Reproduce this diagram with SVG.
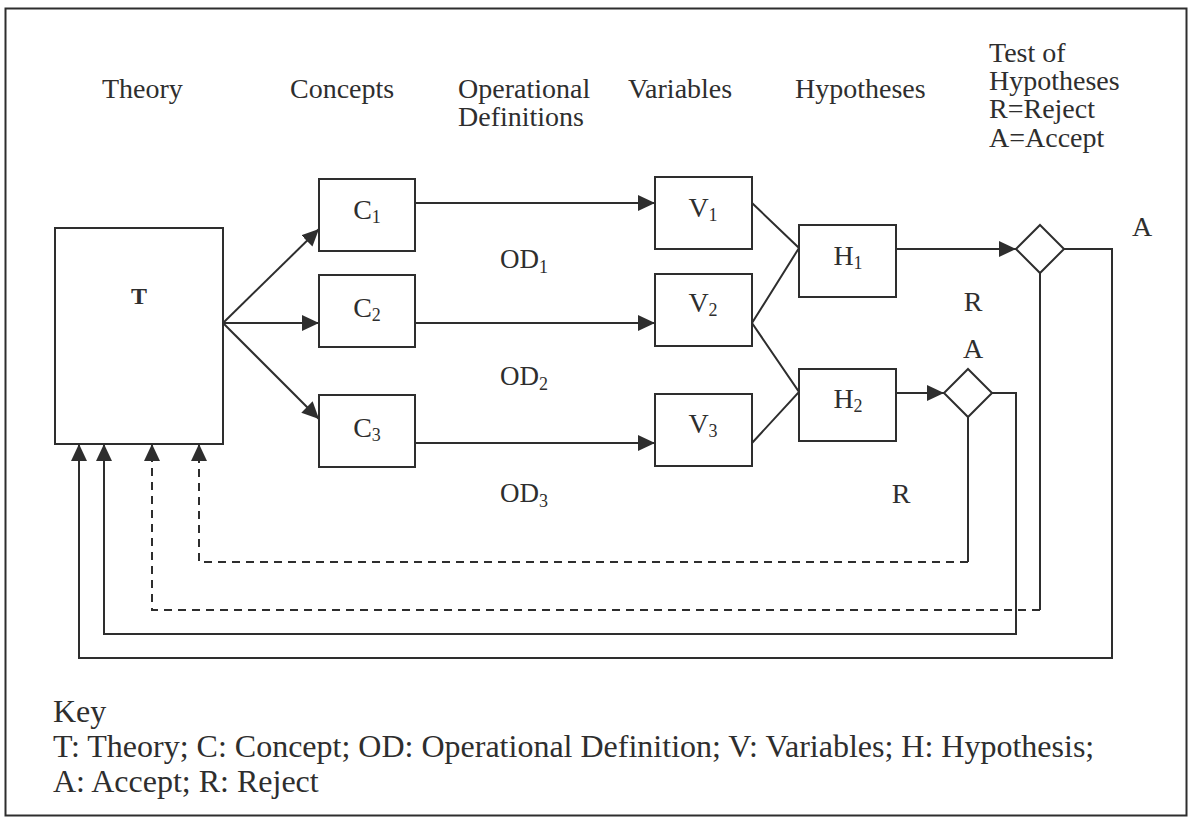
<svg xmlns="http://www.w3.org/2000/svg" width="1192" height="821" viewBox="0 0 1192 821">
<style>
text{font-family:"Liberation Serif","Times New Roman",serif;fill:#2e2e2e}
.lbl{font-size:28px}
.key{font-size:32px}
.box{fill:#fff;stroke:#2e2e2e;stroke-width:2}
.ln{fill:none;stroke:#2e2e2e;stroke-width:2}
.dash{fill:none;stroke:#2e2e2e;stroke-width:2;stroke-dasharray:8 6}
.node{font-size:28px;text-anchor:middle}
.sub{font-size:18px}
</style>
<defs>
<marker id="ah" markerUnits="userSpaceOnUse" markerWidth="18" markerHeight="16" refX="17" refY="8" orient="auto">
<path d="M0,0 L17,8 L0,16 Z" fill="#2e2e2e"/>
</marker>
</defs>
<rect x="5.5" y="8.5" width="1181" height="807" fill="#fff" stroke="#2e2e2e" stroke-width="2"/>
<g id="headers">
<text class="lbl" x="102" y="98">Theory</text>
<text class="lbl" x="290" y="98">Concepts</text>
<text class="lbl" x="458" y="98">Operational</text>
<text class="lbl" x="458" y="126">Definitions</text>
<text class="lbl" x="628" y="98">Variables</text>
<text class="lbl" x="795" y="98">Hypotheses</text>
<text class="lbl" x="989" y="62">Test of</text>
<text class="lbl" x="989" y="90">Hypotheses</text>
<text class="lbl" x="989" y="118">R=Reject</text>
<text class="lbl" x="989" y="147">A=Accept</text>
</g>
<g id="connectors">
<line class="ln" x1="223" y1="323" x2="319" y2="229" marker-end="url(#ah)"/>
<line class="ln" x1="223" y1="323" x2="319" y2="323" marker-end="url(#ah)"/>
<line class="ln" x1="223" y1="323" x2="319" y2="419" marker-end="url(#ah)"/>
<line class="ln" x1="415" y1="203" x2="655" y2="203" marker-end="url(#ah)"/>
<line class="ln" x1="415" y1="323" x2="655" y2="323" marker-end="url(#ah)"/>
<line class="ln" x1="415" y1="443" x2="655" y2="443" marker-end="url(#ah)"/>
<polyline class="ln" points="752,203 799,248 752,323 799,392 752,443"/>
<line class="ln" x1="896" y1="249" x2="1016" y2="249" marker-end="url(#ah)"/>
<line class="ln" x1="896" y1="393" x2="944" y2="393" marker-end="url(#ah)"/>
<line class="ln" x1="968" y1="417" x2="968" y2="562"/>
<polyline class="dash" points="968,562 199,562 199,444" marker-end="url(#ah)"/>
<line class="ln" x1="1040" y1="273" x2="1040" y2="610"/>
<polyline class="dash" points="1040,610 152,610 152,444" marker-end="url(#ah)"/>
<polyline class="ln" points="992,393 1016,393 1016,634 104,634 104,444" marker-end="url(#ah)"/>
<polyline class="ln" points="1064,249 1112,249 1112,658 79,658 79,444" marker-end="url(#ah)"/>
</g>
<g id="node-T">
<rect class="box" x="55" y="228" width="168" height="216"/>
<text x="139" y="304" style="font-size:24px;font-weight:bold;text-anchor:middle">T</text>
</g>
<g id="node-C1"><rect class="box" x="319" y="179" width="96" height="72"/><text class="node" x="367" y="219">C<tspan class="sub" dy="4">1</tspan></text></g>
<g id="node-C2"><rect class="box" x="319" y="275" width="96" height="72"/><text class="node" x="367" y="317">C<tspan class="sub" dy="4">2</tspan></text></g>
<g id="node-C3"><rect class="box" x="319" y="395" width="96" height="72"/><text class="node" x="367" y="437">C<tspan class="sub" dy="4">3</tspan></text></g>
<g id="node-V1"><rect class="box" x="655" y="177" width="97" height="72"/><text class="node" x="703" y="217">V<tspan class="sub" dy="4">1</tspan></text></g>
<g id="node-V2"><rect class="box" x="655" y="274" width="97" height="72"/><text class="node" x="703" y="312">V<tspan class="sub" dy="4">2</tspan></text></g>
<g id="node-V3"><rect class="box" x="655" y="394" width="97" height="72"/><text class="node" x="703" y="433">V<tspan class="sub" dy="4">3</tspan></text></g>
<g id="node-H1"><rect class="box" x="799" y="225" width="97" height="72"/><text class="node" x="848" y="265">H<tspan class="sub" dy="4">1</tspan></text></g>
<g id="node-H2"><rect class="box" x="799" y="369" width="97" height="72"/><text class="node" x="848" y="408">H<tspan class="sub" dy="4">2</tspan></text></g>
<g id="node-D1"><polygon class="box" points="1040,225 1064,249 1040,273 1016,249"/></g>
<g id="node-D2"><polygon class="box" points="968,369 992,393 968,417 944,393"/></g>
<g id="od-labels">
<text class="lbl" x="500" y="268" style="font-size:27px">OD<tspan class="sub" dy="5">1</tspan></text>
<text class="lbl" x="500" y="385" style="font-size:27px">OD<tspan class="sub" dy="5">2</tspan></text>
<text class="lbl" x="500" y="502" style="font-size:27px">OD<tspan class="sub" dy="5">3</tspan></text>
</g>
<g id="ar-labels" class="lbl" style="text-anchor:middle">
<text x="1142" y="236">A</text>
<text x="973" y="311">R</text>
<text x="973" y="358">A</text>
<text x="901" y="503">R</text>
</g>
<g id="key">
<text class="key" x="53" y="722">Key</text>
<text class="key" x="53" y="757">T: Theory; C: Concept; OD: Operational Definition; V: Variables; H: Hypothesis;</text>
<text class="key" x="53" y="792">A: Accept; R: Reject</text>
</g>
</svg>
